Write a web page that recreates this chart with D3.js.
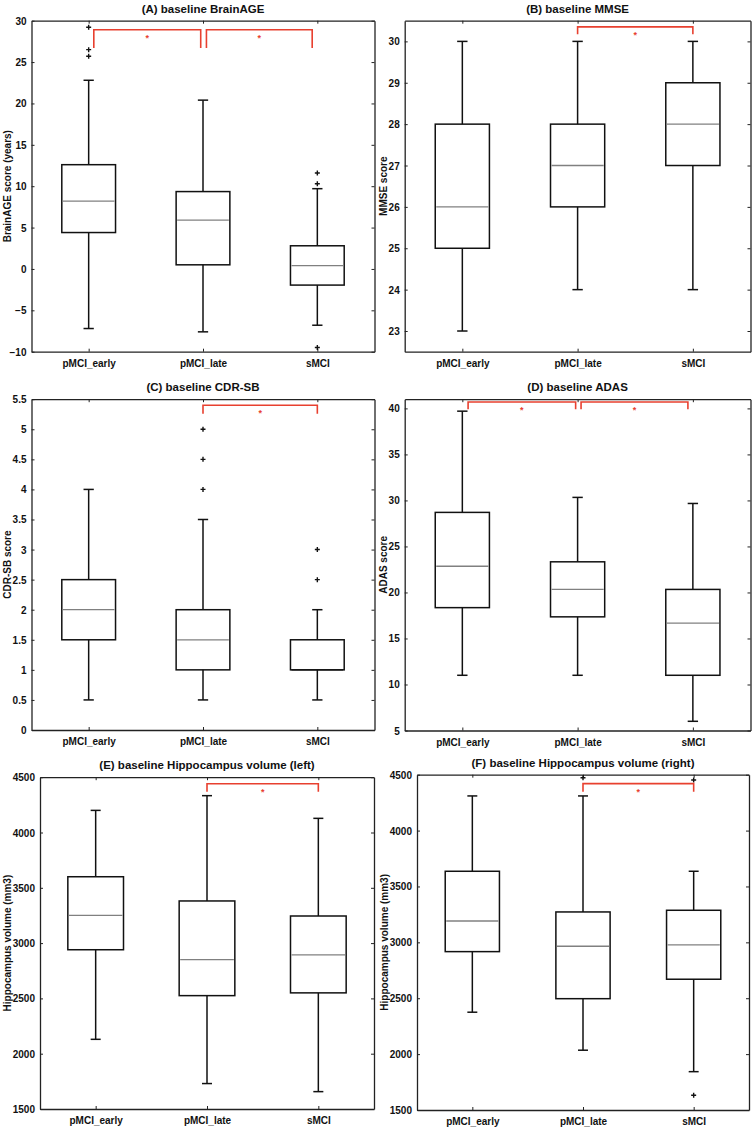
<!DOCTYPE html>
<html>
<head>
<meta charset="utf-8">
<script src="https://cdn.jsdelivr.net/npm/d3@7/dist/d3.min.js"></script>
<style>
  html, body { margin: 0; padding: 0; background: #fff; }
  svg { display: block; }
  text { font-family: "Liberation Sans", Arial, Helvetica, sans-serif; font-weight: bold; }
</style>
</head>
<body>
<svg id="chart" width="755" height="1128"></svg>
<script>
// ---------- DATA ----------
const categories = ["pMCI_early", "pMCI_late", "sMCI"];

// box stats per category: [lower whisker, Q1, median, Q3, upper whisker]
const brainAgeStats = [[-7.2, 4.4, 8.2, 12.6, 22.8], [-7.6, 0.5, 5.9, 9.35, 20.4], [-6.8, -1.95, 0.4, 2.8, 9.7]];
const brainAgeOutliers = [[29.2, 26.5, 25.7], [], [11.6, 10.3, -9.5]];
const brainAgeTicks = [-10, -5, 0, 5, 10, 15, 20, 25, 30];

const mmseStats = [[23, 25, 26, 28, 30], [24, 26, 27, 28, 30], [24, 27, 28, 29, 30]];
const mmseOutliers = [[], [], []];
const mmseTicks = [23, 24, 25, 26, 27, 28, 29, 30];

const cdrStats = [[0.5, 1.5, 2, 2.5, 4], [0.5, 1, 1.5, 2, 3.5], [0.5, 1, 1, 1.5, 2]];
const cdrOutliers = [[], [4, 4.5, 5], [2.5, 3]];
const cdrTicks = [0, 0.5, 1, 1.5, 2, 2.5, 3, 3.5, 4, 4.5, 5, 5.5];

const adasStats = [[11, 18.35, 22.85, 28.7, 39.7], [11, 17.35, 20.33, 23.33, 30.33], [6, 11, 16.67, 20.33, 29.67]];
const adasOutliers = [[], [], []];
const adasTicks = [5, 10, 15, 20, 25, 30, 35, 40];

const hippoLeftStats = [[2130, 2940, 3250, 3600, 4200], [1730, 2525, 2850, 3381, 4333], [1657, 2550, 2893, 3245, 4128]];
const hippoLeftOutliers = [[], [], []];
const hippoRightStats = [[2375, 2917, 3191, 3636, 4310], [2035, 2496, 2965, 3272, 4310], [1843, 2670, 2977, 3287, 3636]];
const hippoRightOutliers = [[], [4473], [4453, 1632]];
const hippoTicks = [1500, 2000, 2500, 3000, 3500, 4000, 4500];

// significance brackets: [from position, to position] (category index units, 1-based)
const brainAgeSig = [[1.045, 1.98], [2.03, 2.955]];
const mmseSig = [[2, 3]];
const cdrSig = [[2, 3]];
const adasSig = [[1.05, 1.983], [2.03, 2.957]];
const hippoLeftSig = [[2, 3]];
const hippoRightSig = [[2, 3]];

// bracket top / bottom values (data units)
const brainAgeSigY = [28.9, 26.7];
const mmseSigY = [30.35, 30.17];
const cdrSigY = [5.4, 5.26];
const adasSigY = [40.7, 39.9];
const hippoLeftSigY = [4441, 4369];
const hippoRightSigY = [4420, 4348];

// ---------- LAYOUT ----------
const panels = [
  { title: "(A) baseline BrainAGE", ylabel: "BrainAGE score (years)", stats: brainAgeStats, outliers: brainAgeOutliers,
    ticks: brainAgeTicks, ylim: [-10, 30], sig: brainAgeSig, sigY: brainAgeSigY,
    rect: { x0: 31.5, x1: 374.5, y0: 20.7, y1: 351.7 }, ylabX: 8.5, bw: 0.47 },
  { title: "(B) baseline MMSE", ylabel: "MMSE score", stats: mmseStats, outliers: mmseOutliers,
    ticks: mmseTicks, ylim: [22.5, 30.5], sig: mmseSig, sigY: mmseSigY,
    rect: { x0: 404.7, x1: 750.5, y0: 20.7, y1: 351.7 }, ylabX: 384, bw: 0.47 },
  { title: "(C) baseline CDR-SB", ylabel: "CDR-SB score", stats: cdrStats, outliers: cdrOutliers,
    ticks: cdrTicks, ylim: [0, 5.5], sig: cdrSig, sigY: cdrSigY,
    rect: { x0: 31.5, x1: 374.5, y0: 399.2, y1: 730 }, ylabX: 8.5, bw: 0.47 },
  { title: "(D) baseline ADAS", ylabel: "ADAS score", stats: adasStats, outliers: adasOutliers,
    ticks: adasTicks, ylim: [5, 41], sig: adasSig, sigY: adasSigY,
    rect: { x0: 404.7, x1: 750.5, y0: 399.2, y1: 730.5 }, ylabX: 384.5, bw: 0.47 },
  { title: "(E) baseline Hippocampus volume (left)", ylabel: "Hippocampus volume (mm3)", stats: hippoLeftStats, outliers: hippoLeftOutliers,
    ticks: hippoTicks, ylim: [1500, 4500], sig: hippoLeftSig, sigY: hippoLeftSigY,
    rect: { x0: 40, x1: 374, y0: 777.2, y1: 1109 }, ylabX: 8, bw: 0.5 },
  { title: "(F) baseline Hippocampus volume (right)", ylabel: "Hippocampus volume (mm3)", stats: hippoRightStats, outliers: hippoRightOutliers,
    ticks: hippoTicks, ylim: [1500, 4500], sig: hippoRightSig, sigY: hippoRightSigY,
    rect: { x0: 417, x1: 749, y0: 774.7, y1: 1110 }, ylabX: 385, bw: 0.49 }
];

const svg = d3.select("#chart");
const axisColor = "#222";
const boxColor = "#111";
const medianColor = "#808080";
const sigColor = "#e8402f";

panels.forEach(p => {
  const r = p.rect;
  const g = svg.append("g");
  const x = d3.scaleLinear().domain([0.5, 3.5]).range([r.x0, r.x1]);
  const y = d3.scaleLinear().domain(p.ylim).range([r.y1, r.y0]);
  const cx = (r.x0 + r.x1) / 2;

  // title
  g.append("text").attr("x", cx).attr("y", r.y0 - 8).attr("text-anchor", "middle")
    .attr("font-size", 11.5).attr("fill", "#111").text(p.title);

  // y label
  g.append("text").attr("transform", `translate(${p.ylabX},${(r.y0 + r.y1) / 2}) rotate(-90)`)
    .attr("text-anchor", "middle").attr("dominant-baseline", "middle")
    .attr("font-size", 10).attr("fill", "#111").text(p.ylabel);

  // axes (inward ticks on all four sides)
  const tickFmt = d => d3.format("")(d);
  const left = g.append("g").attr("transform", `translate(${r.x0},0)`)
    .call(d3.axisLeft(y).tickValues(p.ticks).tickSizeInner(-3).tickSizeOuter(0).tickPadding(5).tickFormat(tickFmt));
  const right = g.append("g").attr("transform", `translate(${r.x1},0)`)
    .call(d3.axisRight(y).tickValues(p.ticks).tickSizeInner(-3).tickSizeOuter(0).tickFormat(""));
  const bottom = g.append("g").attr("transform", `translate(0,${r.y1})`)
    .call(d3.axisBottom(x).tickValues([1, 2, 3]).tickSizeInner(-3).tickSizeOuter(0).tickPadding(8)
      .tickFormat(d => categories[d - 1]));
  const top = g.append("g").attr("transform", `translate(0,${r.y0})`)
    .call(d3.axisTop(x).tickValues([1, 2, 3]).tickSizeInner(-3).tickSizeOuter(0).tickFormat(""));
  [left, right, bottom, top].forEach(a => {
    a.select(".domain").attr("stroke", axisColor).attr("stroke-width", 1.3);
    a.selectAll(".tick line").attr("stroke", axisColor).attr("stroke-width", 1);
    a.selectAll(".tick text").attr("font-size", 10).attr("fill", "#111")
      .attr("font-family", "'Liberation Sans', Arial, sans-serif").attr("font-weight", "bold");
  });
  left.selectAll(".tick text").attr("dy", "0.35em");

  // boxes
  const capW = 0.09;
  p.stats.forEach((s, i) => {
    const pos = i + 1;
    const [lo, q1, med, q3, hi] = s;
    const bg = g.append("g").attr("fill", "none").attr("stroke", boxColor).attr("stroke-width", 1.5);
    // whiskers
    bg.append("line").attr("x1", x(pos)).attr("x2", x(pos)).attr("y1", y(q3)).attr("y2", y(hi));
    bg.append("line").attr("x1", x(pos)).attr("x2", x(pos)).attr("y1", y(q1)).attr("y2", y(lo));
    // caps
    bg.append("line").attr("x1", x(pos - capW / 2)).attr("x2", x(pos + capW / 2)).attr("y1", y(hi)).attr("y2", y(hi));
    bg.append("line").attr("x1", x(pos - capW / 2)).attr("x2", x(pos + capW / 2)).attr("y1", y(lo)).attr("y2", y(lo));
    // box
    bg.append("rect").attr("x", x(pos - p.bw / 2)).attr("y", y(q3))
      .attr("width", x(pos + p.bw / 2) - x(pos - p.bw / 2)).attr("height", y(q1) - y(q3));
    // median
    g.append("line").attr("x1", x(pos - p.bw / 2) + 1).attr("x2", x(pos + p.bw / 2) - 1)
      .attr("y1", y(med)).attr("y2", y(med)).attr("stroke", med === q1 || med === q3 ? boxColor : medianColor)
      .attr("stroke-width", 1.3);
    // outliers
    p.outliers[i].forEach(v => {
      g.append("path").attr("transform", `translate(${x(pos)},${y(v)})`)
        .attr("d", "M-2.5,0H2.5M0,-2.5V2.5").attr("stroke", "#111").attr("stroke-width", 1.4).attr("fill", "none");
    });
  });

  // significance brackets
  p.sig.forEach(([a, b]) => {
    const yt = y(p.sigY[0]), yb = y(p.sigY[1]);
    g.append("path")
      .attr("d", `M${x(a)},${yb}V${yt}H${x(b)}V${yb}`)
      .attr("fill", "none").attr("stroke", sigColor).attr("stroke-width", 1.6);
    g.append("text").attr("x", x((a + b) / 2)).attr("y", yt + 11).attr("text-anchor", "middle")
      .attr("font-size", 9).attr("font-weight", "normal").attr("fill", sigColor).text("*");
  });
});
</script>
</body>
</html>
